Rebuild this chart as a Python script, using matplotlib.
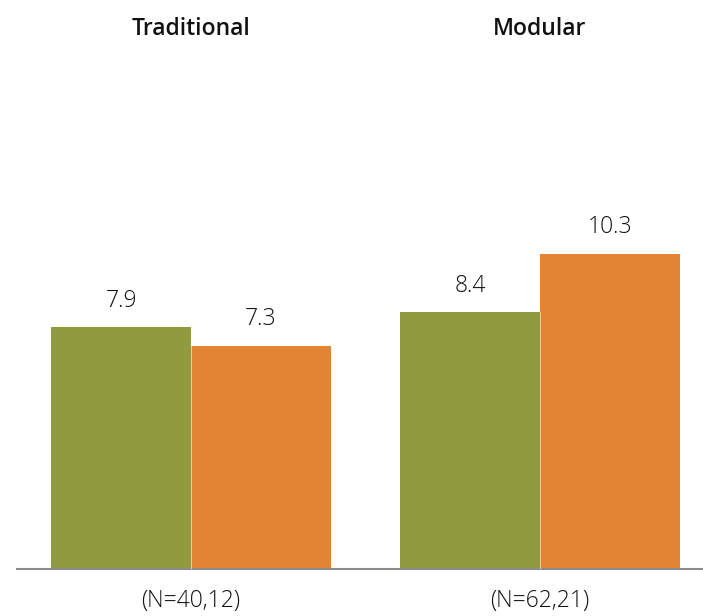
import matplotlib
matplotlib.use("Agg")
import matplotlib.pyplot as plt
import numpy as np

groups = ["Traditional", "Modular"]
n_labels = ["(N=40,12)", "(N=62,21)"]
series_a = [7.9, 8.4]
series_b = [7.3, 10.3]
colors = ["#929A3F", "#E38434"]

W, H, DPI = 703, 616, 100
fig = plt.figure(figsize=(W / DPI, H / DPI), dpi=DPI)
ax_left, ax_right = 17, 703
ax_bottom_px = H - 569
ax_top_px = H - 60
ax = fig.add_axes([ax_left / W, ax_bottom_px / H, (ax_right - ax_left) / W,
                   (ax_top_px - ax_bottom_px) / H])

x = np.arange(len(groups))
bw = 0.401
ax.bar(x - bw / 2, series_a, width=bw, color=colors[0], edgecolor="none")
ax.bar(x + bw / 2, series_b, width=bw, color=colors[1], edgecolor="none")
for xi, a, b in zip(x, series_a, series_b):
    ax.plot([xi, xi], [0, min(a, b)], color="#f0d9b0", lw=0.6, zorder=3)

ax.set_xlim(-0.4986, 1.467)
ax.set_ylim(0, (ax_top_px - ax_bottom_px) / 30.6)

for s in ["top", "right", "left"]:
    ax.spines[s].set_visible(False)
ax.spines["bottom"].set_color("#8c8c8c")
ax.spines["bottom"].set_linewidth(1.5)
ax.set_yticks([])
ax.set_xticks([])

font = "Open Sans"
for xi, a, b in zip(x, series_a, series_b):
    for xx, v in [(xi - bw / 2, a), (xi + bw / 2, b)]:
        ax.annotate(f"{v:.1f}", (xx, v), xytext=(0, 19), textcoords="offset points",
                    ha="center", va="center", fontsize=16.5, family=font,
                    fontweight="light", color="#111111")

for xi, g, n in zip(x, groups, n_labels):
    ax.annotate(g, (xi, H - 29), xycoords=("data", "figure pixels"),
                ha="center", va="center", fontsize=16.5, family=font,
                fontweight="semibold", color="#111111", annotation_clip=False)
    ax.annotate(n, (xi, H - 601), xycoords=("data", "figure pixels"),
                ha="center", va="center", fontsize=16.5, family=font,
                fontweight="light", color="#111111", annotation_clip=False)

fig.savefig("out.png", dpi=DPI)
